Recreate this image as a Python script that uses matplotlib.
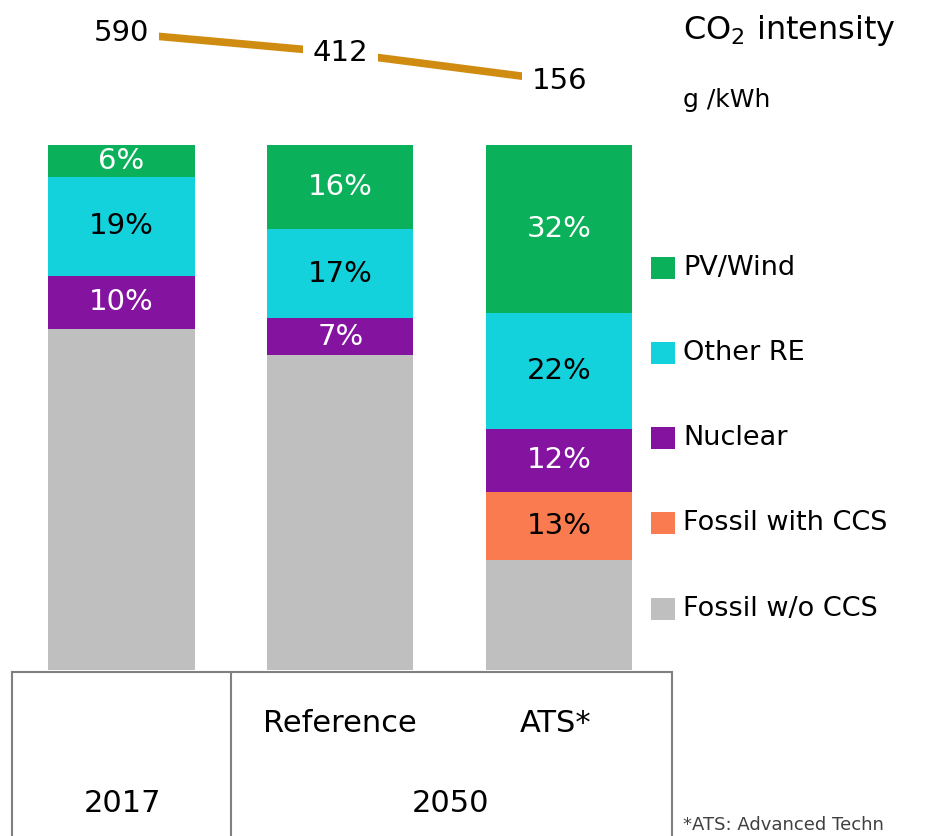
import matplotlib
matplotlib.use("Agg")
import matplotlib.pyplot as plt
from matplotlib.patches import Rectangle
from matplotlib.lines import Line2D

# ---- data ----
scenarios = ["2017", "Reference", "ATS*"]
series = ["Fossil w/o CCS", "Fossil with CCS", "Nuclear", "Other RE", "PV/Wind"]
fossil = [65, 60, 21]
fossil_ccs = [0, 0, 13]
nuclear = [10, 7, 12]
other_re = [19, 17, 22]
pv_wind = [6, 16, 32]
co2 = [590, 412, 156]
colors = ["#BFBFBF", "#FA7B4F", "#84149F", "#13D2DC", "#0BB15A"]
label_colors = [None, "black", "white", "black", "white"]

W, H = 932, 836
fig = plt.figure(figsize=(W / 100, H / 100), dpi=100)
plt.rcParams['font.family'] = ['DejaVu Sans']

def fx(px):
    return px / W

def fy(py):
    return 1 - py / H

# main bar axes: x from 12 to 672 px, y from 145 (100%) to 670 (0%)
ax = fig.add_axes([fx(12), fy(670), fx(672) - fx(12), fy(145) - fy(670)])
xs = list(range(len(scenarios)))
data = [fossil, fossil_ccs, nuclear, other_re, pv_wind]
bottom = [0, 0, 0]
for vals, col, lc in zip(data, colors, label_colors):
    ax.bar(xs, vals, bottom=bottom, width=0.667, color=col, linewidth=0)
    if lc is not None:
        for x, v, b in zip(xs, vals, bottom):
            if v > 0:
                ax.text(x, b + v / 2, f"{v}%", ha="center", va="center",
                        color=lc, fontsize=21)
    bottom = [b + v for b, v in zip(bottom, vals)]
ax.set_xlim(-0.5, 2.514)
ax.set_ylim(0, 100)
ax.axis("off")

# CO2 line axes on top
lax = fig.add_axes([fx(12), fy(140), fx(672) - fx(12), fy(0) - fy(140)])
lax.plot(xs, co2, color="#D08C10", linewidth=5.5, solid_capstyle="butt")
for x, v in zip(xs, co2):
    lax.text(x, v, str(v), ha="center", va="center", fontsize=21,
             bbox=dict(facecolor="white", edgecolor="none", pad=7))
lax.set_xlim(-0.5, 2.514)
lax.set_ylim(-378, 889)
lax.axis("off")

fig.text(fx(683), fy(30), "CO$_2$ intensity", fontsize=23, ha="left", va="center")
fig.text(fx(683), fy(100), "g /kWh", fontsize=18, ha="left", va="center")

# legend
legend_items = [("PV/Wind", colors[4], 268), ("Other RE", colors[3], 353),
                ("Nuclear", colors[2], 438), ("Fossil with CCS", colors[1], 523),
                ("Fossil w/o CCS", colors[0], 609)]
for name, col, yc in legend_items:
    fig.add_artist(Rectangle((fx(651), fy(yc + 11)), fx(24), 22 / H,
                             transform=fig.transFigure, facecolor=col, edgecolor="none"))
    fig.text(fx(683), fy(yc), name, fontsize=19.5, ha="left", va="center")

# category table lines
lc_ = "#808080"
fig.add_artist(Line2D([fx(12), fx(672)], [fy(672), fy(672)], color=lc_, lw=1.5,
                      transform=fig.transFigure))
for px in [12, 231, 672]:
    fig.add_artist(Line2D([fx(px), fx(px)], [fy(672), fy(836)], color=lc_, lw=1.5,
                          transform=fig.transFigure))

fig.text(fx(340), fy(723), scenarios[1], fontsize=22, ha="center", va="center")
fig.text(fx(556), fy(723), scenarios[2], fontsize=22, ha="center", va="center")
fig.text(fx(122), fy(803), scenarios[0], fontsize=22, ha="center", va="center")
fig.text(fx(451), fy(803), "2050", fontsize=22, ha="center", va="center")
fig.text(fx(683), fy(825), "*ATS: Advanced Techn", fontsize=13, ha="left",
         va="center", color="#404040")

fig.savefig("out.png", dpi=100)
